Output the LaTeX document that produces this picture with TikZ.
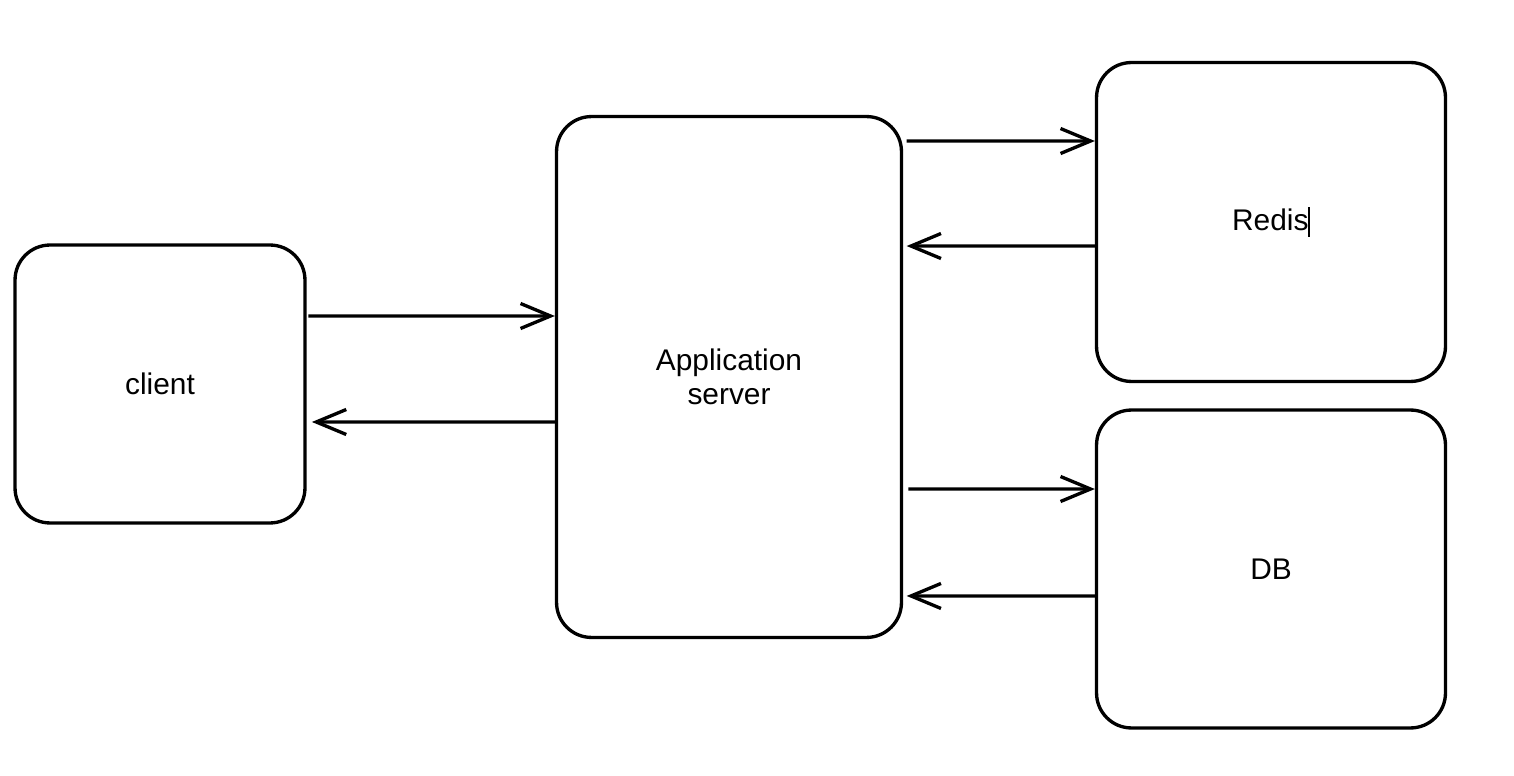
\documentclass[tikz,border=0pt]{standalone}
\usepackage{fontspec}
\setmainfont{Liberation Sans}
\usetikzlibrary{arrows.meta}
\tikzset{
    box/.style={draw, line width=1.9pt, rounded corners=0.7cm, align=center,
        inner sep=0pt, font=\fontsize{17}{19.5}\selectfont},
    flow/.style={line width=1.9pt, -{Straight Barb[length=6mm,width=5mm,line width=1.9pt]}}
}
\begin{document}
\begin{tikzpicture}[x=0.02cm,y=-0.02cm]
    \useasboundingbox (0,0) rectangle (1514,776);
    \node [box, minimum width=5.8cm, minimum height=5.56cm] (client) at (160,384) {client};
    \node [box, minimum width=6.9cm, minimum height=10.42cm] (app) at (729,377) {Application\\server};
    \node [box, minimum width=6.98cm, minimum height=6.38cm] (redis) at (1271,222) {Redis\rule[-0.2em]{0.8pt}{1em}};
    \node [box, minimum width=6.98cm, minimum height=6.36cm] (db) at (1271,569) {DB};
    % client <-> application server
    \draw [flow, shorten <=1pt] ([yshift=1.36cm]client.east) -- ([yshift=1.22cm]app.west);
    \draw [flow, shorten >=3pt] ([yshift=-0.9cm]app.west) -- ([yshift=-0.76cm]client.east);
    % application server <-> redis
    \draw [flow, shorten <=2pt] ([yshift=4.72cm]app.east) -- ([yshift=1.62cm]redis.west);
    \draw [flow, shorten >=2pt] ([yshift=-0.48cm]redis.west) -- ([yshift=2.62cm]app.east);
    % application server <-> db
    \draw [flow, shorten <=3pt] ([yshift=-2.24cm]app.east) -- ([yshift=1.6cm]db.west);
    \draw [flow, shorten >=2pt] ([yshift=-0.54cm]db.west) -- ([yshift=-4.38cm]app.east);
\end{tikzpicture}
\end{document}
